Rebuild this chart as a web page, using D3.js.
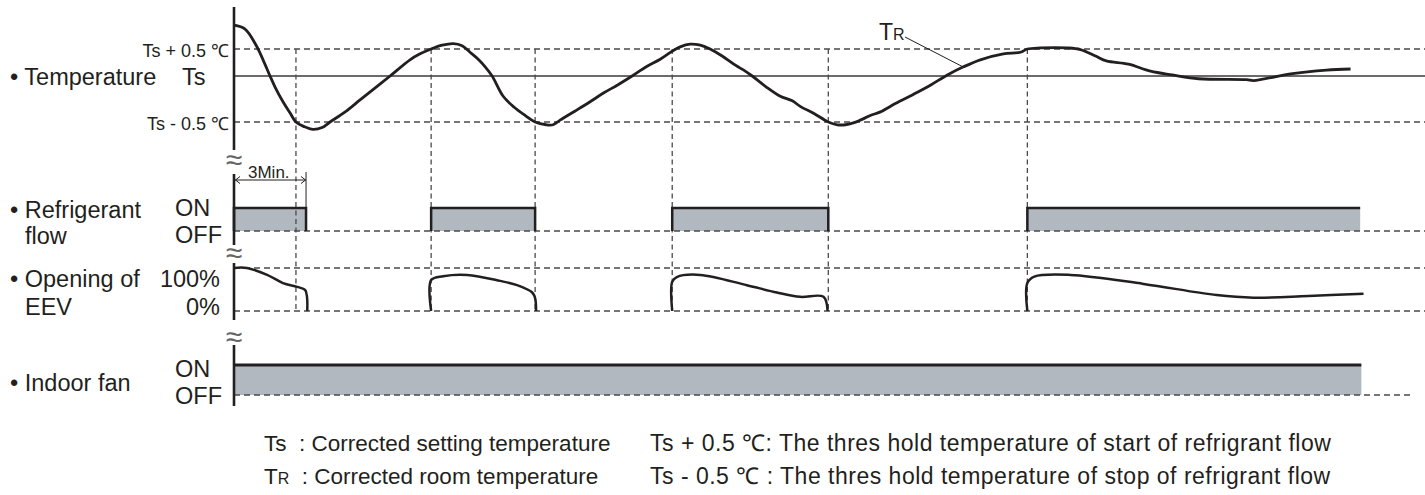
<!DOCTYPE html>
<html><head><meta charset="utf-8">
<script src="https://cdn.jsdelivr.net/npm/d3@7"></script>
<style>
body{margin:0;background:#fff}
svg{display:block}
text{font-family:"Liberation Sans",Arial,Helvetica,sans-serif;fill:#231f20}
</style>
</head><body>
<svg id="chart" width="1425" height="495"></svg>
<script>
// ---------------- DATA ----------------
// time in minutes, temperature as deviation from Ts in °C
const tempT = [0,0.46,0.92,1.21,1.5,1.71,2.04,2.33,2.58,2.92,3.29,3.67,4.0,4.63,5.25,5.88,6.5,7.33,7.75,8.21,8.67,9.13,9.5,9.83,10.17,10.46,10.75,11.21,11.67,12.13,12.54,13.0,13.29,13.58,14.21,14.83,15.42,15.96,16.58,17.17,17.75,18.25,18.58,19.0,19.42,19.83,20.33,20.88,21.29,21.58,22.17,22.75,23.25,23.58,24.17,24.75,25.13,25.46,25.79,26.08,26.5,26.92,27.54,28.29,29.0,29.71,30.38,31.08,32.04,32.75,33.04,33.58,34.71,35.25,35.88,36.33,37.25,38.17,39.08,40.17,42.17,42.46,44.0,45.5,46.5];
const tempV = [0.94,0.87,0.57,0.30,0,-0.12,-0.28,-0.40,-0.5,-0.55,-0.58,-0.56,-0.5,-0.39,-0.26,-0.13,0,0.30,0.41,0.5,0.57,0.60,0.56,0.44,0.31,0.17,0,-0.22,-0.34,-0.43,-0.5,-0.53,-0.53,-0.48,-0.38,-0.28,-0.18,-0.10,0,0.17,0.31,0.46,0.54,0.59,0.57,0.5,0.37,0.20,0.09,0,-0.12,-0.22,-0.27,-0.33,-0.41,-0.5,-0.53,-0.53,-0.51,-0.48,-0.43,-0.39,-0.30,-0.20,-0.10,0.02,0.17,0.30,0.41,0.44,0.5,0.52,0.52,0.49,0.37,0.28,0.22,0.09,0.02,-0.03,-0.04,-0.05,0.04,0.11,0.13];

// EEV opening (%) segments
const eevT = [
  [0,0.54,1.38,2.04,2.63,2.96,3.04,3.05],
  [8.21,8.21,8.71,9.71,11.08,11.79,12.42,12.54,12.58],
  [18.25,18.25,18.44,19.42,21.36,22.61,23.58,24.55,24.72],
  [33.04,33.04,33.33,34.83,37.88,40.92,42.46,44.75,47.04]
];
const eevP = [
  [100,100,84,65,56,49,33,0],
  [0,72,81,84,70,60,43,30,0],
  [0,68,79,84,60,43,33,33,0],
  [0,65,80,84,63,37,31,35,40]
];

// refrigerant flow ON intervals [start, end], last one still running
const flowStart = [0, 8.21, 18.25, 33.04];
const flowEnd   = [3, 12.54, 24.75, 46.9];
const flowOngoing = [false, false, false, true];

// indoor fan ON interval
const fanStart = [0];
const fanEnd = [46.95];

// threshold crossing times (vertical guides)
const switchTimes = [2.58, 8.21, 12.54, 18.25, 24.75, 33.04];

const tempTicks = [0.5, 0, -0.5];
const tempTickLabels = ["Ts + 0.5 \u2103", "Ts", "Ts - 0.5 \u2103"];
const minMark = [0, 3];
const minMarkLabel = "3Min.";
const timeMax = 49.6;

// ---------------- SCALES ----------------
const svg = d3.select("#chart");
const x = d3.scaleLinear().domain([0, timeMax]).range([234, 1425]);
const yT = d3.scaleLinear().domain([-0.5, 0, 0.5]).range([122, 76, 49]);
const yF = d3.scaleLinear().domain([0, 1]).range([231, 208]);
const yE = d3.scaleLinear().domain([0, 100]).range([311, 268]);
const yN = d3.scaleLinear().domain([0, 1]).range([395, 365]);

const ink = "#231f20", dashCol = "#4a4a4a", fillCol = "#b2b8bf";
const gFill = svg.append("g"), gGuide = svg.append("g"), gMark = svg.append("g"), gText = svg.append("g");

// ---------------- FILLS ----------------
gFill.selectAll("rect.flow").data(d3.range(flowStart.length)).join("rect")
  .attr("x", i => x(flowStart[i])).attr("y", yF(1))
  .attr("width", i => x(flowEnd[i]) - x(flowStart[i])).attr("height", yF(0) - yF(1))
  .attr("fill", fillCol);
gFill.selectAll("rect.fan").data(d3.range(fanStart.length)).join("rect")
  .attr("x", i => x(fanStart[i])).attr("y", yN(1))
  .attr("width", i => x(fanEnd[i]) - x(fanStart[i])).attr("height", yN(0) - yN(1))
  .attr("fill", fillCol);

// ---------------- GUIDES ----------------
const hDash = [
  {y: yT(0.5), x2: x(timeMax)}, {y: yT(-0.5), x2: x(timeMax)},
  {y: yF(0), x2: x(timeMax)}, {y: yE(100), x2: x(timeMax)}, {y: yE(0), x2: x(timeMax)},
  {y: yN(0), x2: x(49.05)}
];
gGuide.selectAll("line.h").data(hDash).join("line")
  .attr("x1", x(0)).attr("x2", d => d.x2).attr("y1", d => d.y).attr("y2", d => d.y)
  .attr("stroke", dashCol).attr("stroke-width", 1.5).attr("stroke-dasharray", "6,4");
gGuide.append("line").attr("x1", x(0)).attr("x2", x(timeMax)).attr("y1", yT(0)).attr("y2", yT(0))
  .attr("stroke", "#3a3a3a").attr("stroke-width", 1.3);
gGuide.selectAll("line.v").data(switchTimes).join("line")
  .attr("x1", d => x(d)).attr("x2", d => x(d)).attr("y1", yT(0.5)).attr("y2", yE(0))
  .attr("stroke", dashCol).attr("stroke-width", 1.3).attr("stroke-dasharray", "5,3.5");

// ---------------- MARKS ----------------
const line = d3.line().curve(d3.curveCatmullRom.alpha(0.5));
gMark.append("path")
  .attr("d", line(tempT.map((t, i) => [x(t), yT(tempV[i])])))
  .attr("fill", "none").attr("stroke", ink).attr("stroke-width", 2.8).attr("stroke-linejoin", "round");
eevT.forEach((ts, k) => {
  gMark.append("path")
    .attr("d", line(ts.map((t, i) => [x(t), yE(eevP[k][i])])))
    .attr("fill", "none").attr("stroke", ink).attr("stroke-width", 2.5).attr("stroke-linejoin", "round");
});
flowStart.forEach((s, i) => {
  let d = `M${x(s)},${yF(0)}V${yF(1)}H${x(flowEnd[i])}`;
  if (!flowOngoing[i]) d += `V${yF(0)}`;
  gMark.append("path").attr("d", d).attr("fill", "none").attr("stroke", ink).attr("stroke-width", 2.5);
});
fanStart.forEach((s, i) => {
  gMark.append("path").attr("d", `M${x(s)},${yN(1)}H${x(fanEnd[i])}`)
    .attr("fill", "none").attr("stroke", ink).attr("stroke-width", 3);
});

// axes (vertical baselines of each panel)
const axes = [[7, 150], [174, 245], [263, 320], [345, 406]];
gMark.selectAll("line.ax").data(axes).join("line")
  .attr("x1", x(0)).attr("x2", x(0)).attr("y1", d => d[0]).attr("y2", d => d[1])
  .attr("stroke", ink).attr("stroke-width", 2.6);
// break marks
const breaks = [160, 253, 337];
gText.selectAll("text.brk").data(breaks).join("text")
  .attr("x", x(0)).attr("y", d => d + 10).attr("text-anchor", "middle")
  .attr("font-size", 30).attr("font-family", "DejaVu Sans").style("fill", "#666").text("\u2248");

// 3 min dimension
const my = 180;
gMark.append("line").attr("x1", x(minMark[0]) + 1).attr("x2", x(minMark[1])).attr("y1", my).attr("y2", my)
  .attr("stroke", ink).attr("stroke-width", 1);
gMark.append("path").attr("d", `M${x(minMark[0]) + 6},${my - 3.5}L${x(minMark[0]) + 1.5},${my}L${x(minMark[0]) + 6},${my + 3.5}`)
  .attr("fill", "none").attr("stroke", ink).attr("stroke-width", 1);
gMark.append("path").attr("d", `M${x(minMark[1]) - 5},${my - 3.5}L${x(minMark[1]) - 0.5},${my}L${x(minMark[1]) - 5},${my + 3.5}`)
  .attr("fill", "none").attr("stroke", ink).attr("stroke-width", 1);
gMark.append("line").attr("x1", x(minMark[1])).attr("x2", x(minMark[1])).attr("y1", 172).attr("y2", yF(1))
  .attr("stroke", ink).attr("stroke-width", 1);
gText.append("text").attr("x", x(minMark[0]) + 14).attr("y", 178)
  .attr("font-size", 17).text(minMarkLabel);

// TR label
gText.append("text").attr("x", 879).attr("y", 40).attr("font-size", 23)
  .call(t => { t.append("tspan").text("T"); t.append("tspan").attr("font-size", 16).text("R"); });
gMark.append("line").attr("x1", 905).attr("y1", 37).attr("x2", x(30.4)).attr("y2", yT(0.16))
  .attr("stroke", ink).attr("stroke-width", 1);

// ---------------- TEXT ----------------
const FS = 23.5;
gText.selectAll("text.tt").data(tempTicks).join("text")
  .attr("x", (d, i) => i === 1 ? 182 : 229).attr("text-anchor", (d, i) => i === 1 ? "start" : "end")
  .attr("y", (d, i) => yT(d) + (i === 1 ? 9 : 7.5))
  .attr("font-size", (d, i) => i === 1 ? FS : 18)
  .text((d, i) => tempTickLabels[i]);

const rowLabels = [
  {t: "\u2022 Temperature", x: 10, y: 85},
  {t: "\u2022 Refrigerant", x: 10, y: 218},
  {t: "flow", x: 25, y: 244},
  {t: "\u2022 Opening of", x: 10, y: 287},
  {t: "EEV", x: 25, y: 315},
  {t: "\u2022 Indoor fan", x: 10, y: 391}
];
gText.selectAll("text.row").data(rowLabels).join("text")
  .attr("x", d => d.x).attr("y", d => d.y).attr("font-size", FS).text(d => d.t);

const stateLabels = [
  {t: "ON", x: 175, y: yF(1) + 8, a: "start"},
  {t: "OFF", x: 175, y: yF(0) + 12, a: "start"},
  {t: "100%", x: 220, y: yE(100) + 19, a: "end"},
  {t: "0%", x: 220, y: yE(0) + 4, a: "end"},
  {t: "ON", x: 175, y: yN(1) + 12, a: "start"},
  {t: "OFF", x: 175, y: yN(0) + 9, a: "start"}
];
gText.selectAll("text.st").data(stateLabels).join("text")
  .attr("x", d => d.x).attr("y", d => d.y).attr("text-anchor", d => d.a)
  .attr("font-size", FS).text(d => d.t);

// legend
const legLeft = 264, legRight = 650;
gText.append("text").attr("x", legLeft).attr("y", 451).attr("font-size", 22.5).attr("xml:space", "preserve")
  .text("Ts  : Corrected setting temperature");
const l2 = gText.append("text").attr("x", legLeft).attr("y", 484).attr("font-size", 22.5).attr("xml:space", "preserve");
l2.append("tspan").text("T");
l2.append("tspan").attr("font-size", 16).text("R");
l2.append("tspan").text("  : Corrected room temperature");
gText.append("text").attr("x", legRight).attr("y", 451).attr("font-size", 23).attr("letter-spacing", 0.5)
  .text("Ts + 0.5 \u2103: The thres hold temperature of start of refrigrant flow");
gText.append("text").attr("x", legRight).attr("y", 484).attr("font-size", 23).attr("letter-spacing", 0.5)
  .text("Ts - 0.5 \u2103 : The thres hold temperature of stop of refrigrant flow");
</script>
</body></html>
